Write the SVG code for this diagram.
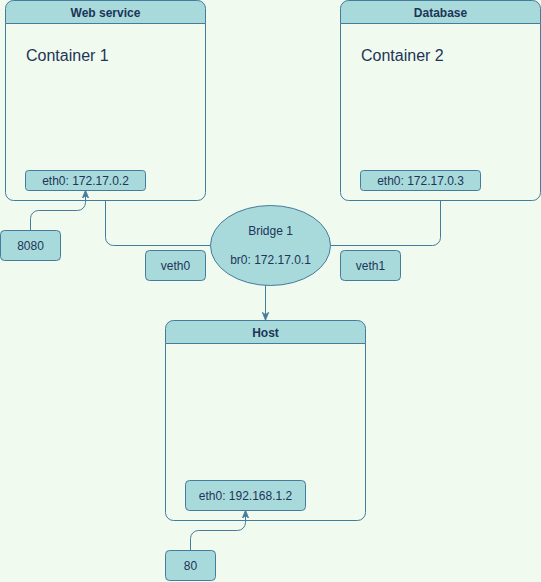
<svg xmlns="http://www.w3.org/2000/svg" width="541" height="582" viewBox="0 0 541 582">
<defs>
<style>
.bx{fill:#A8DADC;stroke:#457B9D;stroke-width:1}
.lane{fill:none;stroke:#457B9D;stroke-width:1}
.t{font-family:"Liberation Sans",Arial,Helvetica,sans-serif;font-size:12px;fill:#1D3557;text-anchor:middle}
.b{font-weight:bold}
.big{font-size:16px;text-anchor:start}
.e{fill:none;stroke:#457B9D;stroke-width:1}
</style>
<marker id="ar" viewBox="0 0 10 10" refX="9" refY="5" markerWidth="8" markerHeight="8" markerUnits="userSpaceOnUse" orient="auto">
<path d="M0,1 L10,5 L0,9 L3,5 Z" fill="#457B9D" stroke="#457B9D" stroke-width="1"/>
</marker>
</defs>
<rect width="541" height="582" fill="#F1FAEE"/>
<g id="webservice">
<path d="M5.5,23.5 V8.5 A8,8 0 0 1 13.5,0.5 H197.5 A8,8 0 0 1 205.5,8.5 V23.5 Z" class="bx"/>
<path d="M5.5,23.5 V192.5 A8,8 0 0 0 13.5,200.5 H197.5 A8,8 0 0 0 205.5,192.5 V23.5" class="lane"/>
<text x="105.5" y="17" class="t b">Web service</text>
<text x="26" y="61" class="t big">Container 1</text>
</g>
<g id="database">
<path d="M340.5,23.5 V8.5 A8,8 0 0 1 348.5,0.5 H532.5 A8,8 0 0 1 540.5,8.5 V23.5 Z" class="bx"/>
<path d="M340.5,23.5 V192.5 A8,8 0 0 0 348.5,200.5 H532.5 A8,8 0 0 0 540.5,192.5 V23.5" class="lane"/>
<text x="440.5" y="17" class="t b">Database</text>
<text x="361" y="61" class="t big">Container 2</text>
</g>
<g id="host">
<path d="M165.5,343.5 V328.5 A8,8 0 0 1 173.5,320.5 H357.5 A8,8 0 0 1 365.5,328.5 V343.5 Z" class="bx"/>
<path d="M165.5,343.5 V512.5 A8,8 0 0 0 173.5,520.5 H357.5 A8,8 0 0 0 365.5,512.5 V343.5" class="lane"/>
<text x="265.5" y="337" class="t b">Host</text>
</g>
<g id="eth0-c1">
<rect x="25.5" y="170.5" width="120" height="20" rx="3" class="bx"/>
<text x="85.5" y="185" class="t">eth0: 172.17.0.2</text>
</g>
<g id="eth0-c2">
<rect x="360.5" y="170.5" width="120" height="20" rx="3" class="bx"/>
<text x="420.5" y="185" class="t">eth0: 172.17.0.3</text>
</g>
<g id="eth0-host">
<rect x="185.5" y="480.5" width="120" height="30" rx="4" class="bx"/>
<text x="245.5" y="500" class="t">eth0: 192.168.1.2</text>
</g>
<g id="port8080">
<rect x="0.5" y="230.5" width="60" height="30" rx="4" class="bx"/>
<text x="30.5" y="250" class="t">8080</text>
</g>
<g id="port80">
<rect x="165.5" y="550.5" width="50" height="30" rx="4" class="bx"/>
<text x="190.5" y="570" class="t">80</text>
</g>
<g id="veth0">
<rect x="145.5" y="250.5" width="60" height="30" rx="4" class="bx"/>
<text x="175.5" y="270" class="t">veth0</text>
</g>
<g id="veth1">
<rect x="340.5" y="250.5" width="60" height="30" rx="4" class="bx"/>
<text x="370.5" y="270" class="t">veth1</text>
</g>
<g id="bridge">
<ellipse cx="270.5" cy="245.5" rx="60" ry="40" class="bx"/>
<text x="270.5" y="235" class="t">Bridge 1</text>
<text x="270.5" y="264" class="t">br0: 172.17.0.1</text>
</g>
<g id="connectors">
<path d="M105.5,200.5 V237.5 A8,8 0 0 0 113.5,245.5 H210.5" class="e"/>
<path d="M440.5,200.5 V237.5 A8,8 0 0 1 432.5,245.5 H330.5" class="e"/>
<path d="M265.5,285.2 V319.5" class="e" marker-end="url(#ar)"/>
<path d="M30.5,230.5 V218.5 A8,8 0 0 1 38.5,210.5 H77.5 A8,8 0 0 0 85.5,202.5 V191" class="e" marker-end="url(#ar)"/>
<path d="M190.5,550.5 V538.5 A8,8 0 0 1 198.5,530.5 H237.5 A8,8 0 0 0 245.5,522.5 V511" class="e" marker-end="url(#ar)"/>
</g>
</svg>
